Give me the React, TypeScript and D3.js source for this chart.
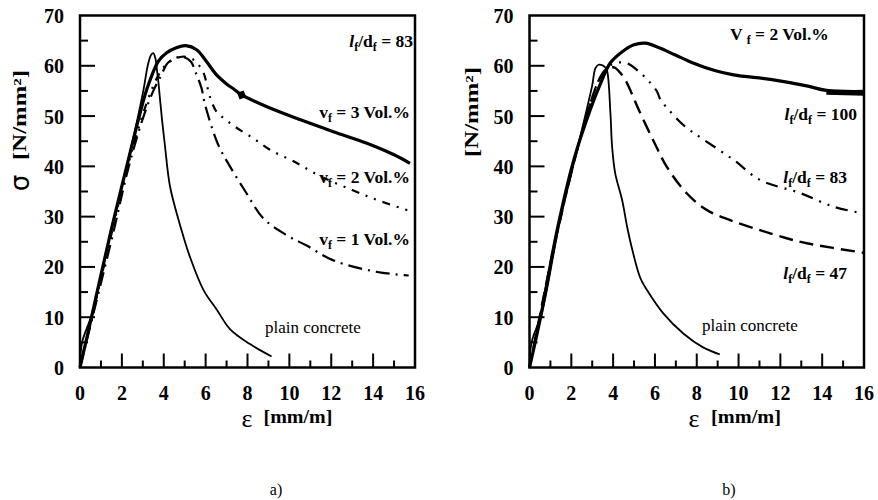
import React from 'react';
import * as d3 from 'd3';

type P = [number, number];

const xTickValues = [0, 2, 4, 6, 8, 10, 12, 14, 16];
const yTickValues = [0, 10, 20, 30, 40, 50, 60, 70];

// Panel a) — l_f/d_f = 83, varying fibre volume
const aPlain: P[] = [[0,0],[0.1,5],[0.6,11],[1.5,27.5],[2.4,43],[3.0,54.5],[3.26,60.5],[3.4,62.2],[3.5,62.5],[3.6,61.5],[3.68,59],[3.75,56.5],[3.9,50],[4.06,44],[4.3,36],[4.85,27.3],[5.25,22],[5.9,15.4],[6.55,11.4],[7.15,7.7],[8.1,4.7],[9.15,2.2]];
const aVf3: P[] = [[0,0],[0.55,10],[0.95,17.5],[1.5,27.5],[2.47,44],[2.87,50.6],[3.18,55.2],[3.74,60.9],[4.14,62.6],[4.6,63.6],[5.06,64],[5.57,63.2],[6.05,60.8],[6.5,58.3],[7.0,56.4],[7.4,55.2],[7.72,54.2],[8.9,51.9],[10.5,49.3],[12.1,46.9],[13.7,44.6],[15.0,42.3],[15.76,40.6]];
const aVf2: P[] = [[0,0],[1.5,26.5],[2.2,38.7],[2.9,49],[3.4,55],[3.8,58.5],[4.2,60.6],[4.86,61.8],[5.3,61.5],[5.6,60.5],[5.9,58.6],[6.2,53.9],[6.5,51],[6.77,49.9],[7.4,47.9],[8.27,45.6],[9.07,43.3],[10.2,41],[11.5,38],[13.0,35.3],[14.2,33.3],[15.7,31.2]];
const aVf1: P[] = [[0,0],[1.6,27],[2.3,39.5],[3.0,49.5],[3.5,55],[3.9,58.3],[4.2,60.6],[4.86,61.8],[5.3,60.8],[5.5,58.9],[5.8,55.6],[5.97,52.3],[6.6,44.3],[7.16,40],[7.96,34.6],[8.75,29.7],[9.87,26.3],[10.8,24.3],[12.1,21.3],[14.2,19],[15.7,18.3]];
const aMarker: P = [7.72, 54.2];

// Panel b) — V_f = 2 Vol.%, varying aspect ratio
const bPlain: P[] = [[0,0],[0.1,5],[0.6,11],[1.4,28],[2.2,42],[2.99,55.9],[3.15,59.5],[3.3,60.2],[3.42,60.2],[3.6,59.8],[3.71,59],[3.87,50.6],[3.95,44],[4.1,38.6],[4.43,33.3],[4.67,28],[4.9,23.7],[5.3,17.8],[5.62,15.4],[6.41,10.7],[7.37,6.7],[8.3,4],[9.1,2.6]];
const bLd100: P[] = [[0,0],[0.53,10],[1.32,27.3],[2.12,41.3],[2.91,51.3],[3.4,56.5],[3.87,60.6],[4.5,63],[5.0,64.2],[5.54,64.5],[6.2,63.6],[6.95,62.2],[7.85,60.5],[8.9,59],[9.76,58.2],[11.67,57.2],[13.26,56],[14.2,55.1],[16,54.9]];
const bLd83: P[] = [[0,0],[1.4,28],[2.2,42],[2.95,53],[3.4,57.8],[3.9,60.2],[4.58,60.6],[5.3,58.6],[5.8,56.5],[6.1,54.9],[6.26,53.3],[6.73,50.9],[7.45,47.9],[8.3,45.4],[9.76,41.3],[11.03,37.3],[12.94,34.7],[14.53,32],[16,30.6]];
const bLd47: P[] = [[0,0],[1.4,28.5],[2.2,42],[2.95,53],[3.3,57],[3.6,59],[4.03,59.7],[4.3,58.8],[4.58,57.2],[4.9,54.4],[5.22,51.3],[5.94,45],[6.57,39.9],[7.53,34.6],[8.49,31.3],[9.6,29.3],[11.03,27.3],[12.3,25.7],[13.26,24.7],[16,22.8]];
const bHeavyFrom = 14.2;

const SERIF = "'Liberation Serif', 'Times New Roman', serif";
const ANN = 17.5;

type Series = { data: P[]; width: number; dash?: string };

function LD({ x, y, value, anchor }: { x: number; y: number; value: string; anchor: string }) {
  return (
    <text x={x} y={y} fontFamily={SERIF} fontWeight="bold" fontSize={ANN} textAnchor={anchor}>
      <tspan fontStyle="italic">l</tspan>
      <tspan dy={4} fontSize={12}>f</tspan>
      <tspan dy={-4}>/d</tspan>
      <tspan dy={4} fontSize={12}>f</tspan>
      <tspan dy={-4}>{` = ${value}`}</tspan>
    </text>
  );
}

function VF({ x, y, value, anchor, gap }: { x: number; y: number; value: string; anchor: string; gap?: boolean }) {
  return (
    <text x={x} y={y} fontFamily={SERIF} fontWeight="bold" fontSize={ANN} textAnchor={anchor}>
      <tspan>{gap ? 'V  ' : 'v'}</tspan>
      <tspan dy={4} fontSize={12}>f</tspan>
      <tspan dy={-4}>{` = ${value} Vol.%`}</tspan>
    </text>
  );
}

function Panel({ left, right, series, extra }: { left: number; right: number; series: Series[]; extra?: (x: any, y: any, line: any) => React.ReactNode }) {
  const x = d3.scaleLinear().domain([0, 16]).range([left, right]);
  const y = d3.scaleLinear().domain([0, 70]).range([367.5, 15.5]);
  const line = d3.line<P>().x(d => x(d[0])).y(d => y(d[1])).curve(d3.curveCatmullRom.alpha(0.5));
  const yMinor = d3.range(5, 70, 5);
  const xMinor = d3.range(1, 16, 1);
  return (
    <g>
      <rect x={left} y={y(70)} width={right - left} height={y(0) - y(70)} fill="none" stroke="#000" strokeWidth={2.5} />
      {yMinor.map(v => (
        <line key={'yt' + v} x1={left} x2={left + (v % 10 === 0 ? 15 : 8)} y1={y(v)} y2={y(v)} stroke="#000" strokeWidth={2} />
      ))}
      {xMinor.map(v => (
        <line key={'xt' + v} x1={x(v)} x2={x(v)} y1={y(0)} y2={y(0) - (v % 2 === 0 ? 14 : 7)} stroke="#000" strokeWidth={2} />
      ))}
      {yTickValues.map(v => (
        <text key={'yl' + v} x={left - 16} y={y(v) + 7.5} textAnchor="end" fontFamily={SERIF} fontWeight="bold" fontSize={20}>{v}</text>
      ))}
      {xTickValues.map(v => (
        <text key={'xl' + v} x={x(v)} y={400} textAnchor="middle" fontFamily={SERIF} fontWeight="bold" fontSize={20}>{v}</text>
      ))}
      {series.map((s, i) => (
        <path key={i} d={line(s.data) || ''} fill="none" stroke="#000" strokeWidth={s.width} strokeDasharray={s.dash} strokeLinejoin="round" strokeLinecap="butt" />
      ))}
      {extra ? extra(x, y, line) : null}
    </g>
  );
}

export default function App() {
  return (
    <svg width={878} height={500} style={{ position: 'absolute', left: 0, top: 0, background: '#fff' }}>
      <rect width={878} height={500} fill="#fff" />
      <Panel
        left={80}
        right={415}
        series={[
          { data: aPlain, width: 1.8 },
          { data: aVf1, width: 2.2, dash: '14 6 2 6' },
          { data: aVf2, width: 2.2, dash: '8 7 2 7 2 7' },
          { data: aVf3, width: 3.2 },
        ]}
        extra={(x, y) => (
          <rect x={x(aMarker[0]) - 3.5} y={y(aMarker[1]) - 3.5} width={7} height={7} fill="#000" transform={`rotate(-20 ${x(aMarker[0])} ${y(aMarker[1])})`} />
        )}
      />
      <Panel
        left={529.5}
        right={864}
        series={[
          { data: bPlain, width: 1.8 },
          { data: bLd47, width: 2.4, dash: '14 7' },
          { data: bLd83, width: 2.2, dash: '12 7 2 7 2 7' },
          { data: bLd100, width: 3.2 },
        ]}
        extra={(x, y, line) => (
          <path d={line(bLd100.filter(d => d[0] >= bHeavyFrom).map(d => [d[0], d[1] - 0.35]))} fill="none" stroke="#000" strokeWidth={5} />
        )}
      />

      {/* Panel a annotations */}
      <LD x={413} y={47} value="83" anchor="end" />
      <VF x={410} y={118} value="3" anchor="end" />
      <VF x={410} y={183} value="2" anchor="end" />
      <VF x={410} y={245} value="1" anchor="end" />
      <text x={265} y={333} fontFamily={SERIF} fontSize={17}>plain concrete</text>

      {/* Panel b annotations */}
      <VF x={730} y={40} value="2" anchor="start" gap />
      <LD x={857} y={120} value="100" anchor="end" />
      <LD x={847} y={183} value="83" anchor="end" />
      <LD x={847} y={279} value="47" anchor="end" />
      <text x={702} y={331} fontFamily={SERIF} fontSize={17}>plain concrete</text>

      {/* Axis titles */}
      <text transform="translate(29,183) rotate(-90)" textAnchor="middle" fontFamily="'DejaVu Sans', sans-serif" fontSize={26}>σ</text>
      <text transform="translate(26,115) rotate(-90)" textAnchor="middle" fontFamily={SERIF} fontWeight="bold" fontSize={18} textLength={90} lengthAdjust="spacingAndGlyphs">[N/mm²]</text>
      <text transform="translate(478,112) rotate(-90)" textAnchor="middle" fontFamily={SERIF} fontWeight="bold" fontSize={18} textLength={90} lengthAdjust="spacingAndGlyphs">[N/mm²]</text>

      <text x={247} y={427} textAnchor="middle" fontFamily={SERIF} fontSize={26}>ε</text>
      <text x={298} y={423} textAnchor="middle" fontFamily={SERIF} fontWeight="bold" fontSize={18} textLength={69} lengthAdjust="spacingAndGlyphs">[mm/m]</text>
      <text x={694} y={427} textAnchor="middle" fontFamily={SERIF} fontSize={26}>ε</text>
      <text x={746} y={423} textAnchor="middle" fontFamily={SERIF} fontWeight="bold" fontSize={18} textLength={70} lengthAdjust="spacingAndGlyphs">[mm/m]</text>

      <text x={276} y={495} textAnchor="middle" fontFamily={SERIF} fontSize={16}>a)</text>
      <text x={729} y={495} textAnchor="middle" fontFamily={SERIF} fontSize={16}>b)</text>
    </svg>
  );
}
